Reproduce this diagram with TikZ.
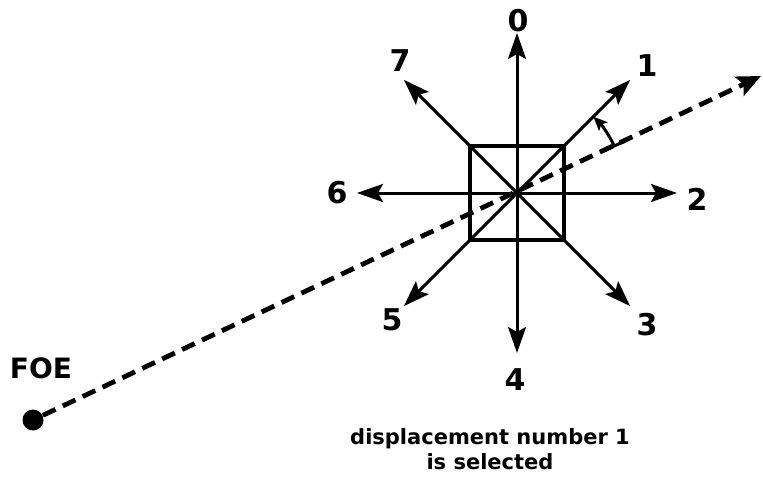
\documentclass[tikz,border=0pt]{standalone}
\usepackage{fontspec}
\setmainfont{DejaVu Sans}
\usetikzlibrary{arrows.meta,positioning,calc}

\begin{document}
\begin{tikzpicture}[
	x=0.5pt, y=0.5pt,
	dir/.style={-{Stealth[length=13pt, width=9pt, inset=2.5pt]}, line width=1.5pt},
	num/.style={inner sep=0pt, font=\fontsize{15}{18}\selectfont\bfseries},
	foeline/.style={-{Stealth[length=12pt, width=10.5pt, inset=2.5pt]}, line width=2.4pt,
		dash pattern=on 7pt off 4pt},
	cell/.style={draw, line width=2pt, minimum width=47pt, minimum height=46.5pt, inner sep=0pt},
	dot/.style={circle, fill=black, minimum size=10.5pt, inner sep=0pt},
	angarc/.style={{Bar[width=7pt]}-{Stealth[length=7pt, width=6pt, inset=1.5pt]}, line width=1.5pt}
	]
	\useasboundingbox (0,0) rectangle (763,493);

	\coordinate (c) at (517,300);
	\node[cell] (sq) at (c) {};

	% arrow tips of the eight displacements
	\coordinate (t0) at ($(c)+(90:160)$);
	\coordinate (t1) at ($(c)+(45:160)$);
	\coordinate (t2) at ($(c)+(0:160)$);
	\coordinate (t3) at ($(c)+(-45:160)$);
	\coordinate (t4) at ($(c)+(-90:160)$);
	\coordinate (t5) at ($(c)+(-135:160)$);
	\coordinate (t6) at ($(c)+(180:160)$);
	\coordinate (t7) at ($(c)+(135:160)$);

	\draw[dir] (c) -- (t0);
	\draw[dir] (c) -- (t1);
	\draw[dir] (c) -- (t2);
	\draw[dir] (c) -- (t3);
	\draw[dir] (c) -- (t4);
	\draw[dir] (c) -- (t5);
	\draw[dir] (c) -- (t6);
	\draw[dir] (c) -- (t7);

	\node[num] (n0) at (518,472) {0};
	\node[num] (n1) at (647,427) {1};
	\node[num] (n2) at (697,294) {2};
	\node[num] (n3) at (647,168) {3};
	\node[num] (n4) at (515,113) {4};
	\node[num] (n5) at (392,173) {5};
	\node[num] (n6) at (337,300) {6};
	\node[num] (n7) at (400,432) {7};

	% focus of expansion and heading
	\node[dot] (foe) at (33,73) {};
	\node[num, above=15pt of foe.north, xshift=4pt, font=\fontsize{14}{17}\selectfont\bfseries] (foelab) {FOE};
	\coordinate (head) at (761,417);
	\draw[foeline] (foe) -- (head);

	\draw[angarc] (c) ++(25:108) arc[start angle=25, end angle=45, radius=108];

	\node[align=center, font=\fontsize{10.5}{12.5}\selectfont\bfseries] (note) at (490,44)
	{displacement number 1\\is selected};
\end{tikzpicture}
\end{document}
